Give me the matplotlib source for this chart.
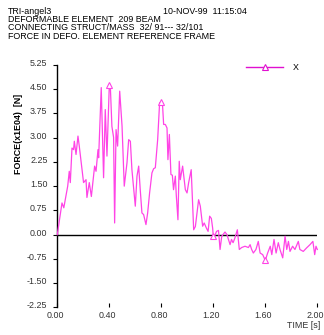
import numpy as np
import matplotlib
matplotlib.use("Agg")
import matplotlib.pyplot as plt
from matplotlib.lines import Line2D
from matplotlib.transforms import ScaledTranslation

plt.rcParams['font.family'] = ['Liberation Sans', 'DejaVu Sans']

# Force history of beam element 209 (x1E04 N) versus time (s)
time_s = [
    0.000, 0.036, 0.050, 0.080, 0.092, 0.100, 0.113, 0.125, 0.131, 0.144,
    0.159, 0.169, 0.202, 0.221, 0.228, 0.246, 0.262, 0.287, 0.298, 0.313,
    0.318, 0.338, 0.356, 0.369, 0.382, 0.400, 0.408, 0.420, 0.433, 0.441,
    0.452, 0.464, 0.480, 0.498, 0.515, 0.536, 0.549, 0.562, 0.574, 0.600,
    0.613, 0.626, 0.638, 0.651, 0.664, 0.682, 0.695, 0.710, 0.728, 0.741,
    0.754, 0.772, 0.787, 0.800, 0.810, 0.818, 0.831, 0.844, 0.851, 0.862,
    0.874, 0.885, 0.894, 0.908, 0.915, 0.928, 0.938, 0.946, 0.964, 0.985,
    0.998, 1.010, 1.030, 1.049, 1.062, 1.087, 1.100, 1.118, 1.130, 1.146,
    1.160, 1.172, 1.185, 1.195, 1.200, 1.210, 1.225, 1.240, 1.252, 1.265,
    1.290, 1.305, 1.329, 1.340, 1.352, 1.365, 1.385, 1.400, 1.418, 1.444,
    1.470, 1.483, 1.495, 1.508, 1.528, 1.546, 1.560, 1.580, 1.600, 1.618,
    1.638, 1.650, 1.667, 1.683, 1.700, 1.713, 1.734, 1.752, 1.765, 1.778,
    1.790, 1.810, 1.828, 1.854, 1.866, 1.892, 1.918, 1.944, 1.966, 1.980,
    1.990, 2.000,
]
force_x = [
    0.00, 0.98, 0.83, 1.50, 1.96, 1.61, 2.68, 2.63, 2.89, 2.48,
    3.05, 2.74, 1.61, 1.70, 1.15, 1.61, 1.18, 2.12, 1.96, 2.63,
    2.38, 4.55, 1.76, 3.87, 2.43, 4.62, 4.58, 3.35, 3.01, 0.36,
    3.25, 2.74, 4.44, 3.36, 1.50, 2.22, 2.94, 2.89, 2.01, 0.88,
    1.81, 2.12, 1.39, 0.67, 0.62, 0.31, 0.67, 1.29, 1.91, 2.04,
    2.07, 2.94, 4.08, 4.10, 3.98, 3.41, 3.41, 3.30, 2.32, 3.10,
    1.86, 1.84, 1.39, 1.81, 1.24, 0.46, 2.27, 1.70, 2.12, 1.39,
    1.29, 1.60, 2.01, 0.15, 0.25, 1.08, 0.88, 0.26, 0.36, 0.21,
    0.10, 0.57, 0.50, 0.20, -0.05, -0.05, 0.10, 0.13, -0.46, -0.05,
    0.08, 0.00, -0.31, -0.15, -0.25, -0.12, 0.15, -0.46, -0.40, -0.36,
    -0.40, -0.31, -0.46, -0.57, -0.46, -0.21, -0.57, -0.62, -0.80, -0.57,
    -0.36, -0.62, -0.15, -0.57, -0.25, -0.46, -0.72, -0.05, -0.46, -0.21,
    -0.52, -0.36, -0.46, -0.21, -0.46, -0.52, -0.41, -0.31, -0.21, -0.62,
    -0.36, -0.46,
]
marker_times = [0.40, 0.80, 1.20, 1.60]

x_ticks = [0.00, 0.40, 0.80, 1.20, 1.60, 2.00]
y_ticks = [-2.25, -1.50, -0.75, 0.00, 0.75, 1.50, 2.25, 3.00, 3.75, 4.50, 5.25]

header_lines = [
    "TRI-angel3",
    "DEFORMABLE ELEMENT  209 BEAM",
    "CONNECTING STRUCT/MASS  32/ 91--- 32/101",
    "FORCE IN DEFO. ELEMENT REFERENCE FRAME",
]
stamp = "10-NOV-99  11:15:04"

W, H = 324, 335
fs = 6.4
fig = plt.figure(figsize=(W / 100, H / 100), dpi=100)
ax = fig.add_axes([57.3 / W, 1 - 307.3 / H, (317.3 - 57.3) / W, (307.3 - 65) / H])

t = np.array(time_s)
f = np.array(force_x)
mark_idx = [int(np.argmin(np.abs(t - m))) for m in marker_times]

line_col = '#ff44e6'
ax.plot(t, f, color=line_col, lw=0.9, marker='^', markevery=mark_idx,
        markersize=5, markerfacecolor='white', markeredgecolor=line_col,
        markeredgewidth=0.8, clip_on=False, zorder=3)
ax.axhline(0, color='black', lw=1.0, zorder=2)

ax.set_xlim(0, 2.0)
ax.set_ylim(-2.25, 5.25)
ax.set_xticks(x_ticks)
ax.set_yticks(y_ticks)
ax.set_xticklabels([f"{v:.2f}" for v in x_ticks])
ax.set_yticklabels([f"{v:.2f}" for v in y_ticks])

for s in ['top', 'right', 'bottom']:
    ax.spines[s].set_visible(False)
ax.spines['left'].set_linewidth(1.0)
ax.tick_params(axis='y', direction='out', length=3, width=0.8, labelsize=fs,
               labelcolor='#333333', pad=4)
ax.tick_params(axis='x', direction='in', length=3, width=0.8, labelsize=fs,
               labelcolor='#333333', pad=3)

# tick labels sit a little above their tick marks
lift = ScaledTranslation(0, 2.5 / 100, fig.dpi_scale_trans)
for lab in ax.get_yticklabels():
    lab.set_transform(lab.get_transform() + lift)
shift_left = ScaledTranslation(-2 / 100, 0, fig.dpi_scale_trans)
for lab in ax.get_xticklabels():
    lab.set_transform(lab.get_transform() + shift_left)

fig.text(18.5 / W, 1 - 134 / H, "FORCE(x1E04)  [N]", fontsize=fs, fontweight='bold',
         rotation=90, ha='center', va='center')
fig.text(320 / W, 1 - 325 / H, "TIME [s]", fontsize=fs, ha='right', va='center',
         color='#333333')

for i, txt in enumerate(header_lines):
    fig.text(8 / W, 1 - (11.5 + 8.2 * i) / H, txt, fontsize=fs, ha='left', va='center')
fig.text(163 / W, 1 - 11.5 / H, stamp, fontsize=fs, ha='left', va='center')

handle = Line2D([], [], color='#e010d0', lw=1.0, marker='^', markersize=5,
                markerfacecolor='white', markeredgecolor='#e010d0', markeredgewidth=0.8)
fig.legend([handle], ["X"], loc='center left', bbox_to_anchor=(246 / W, 1 - 68 / H),
           frameon=False, fontsize=fs, borderpad=0, borderaxespad=0,
           handlelength=4.2, handletextpad=1.1)

fig.savefig("out.png", dpi=100)
